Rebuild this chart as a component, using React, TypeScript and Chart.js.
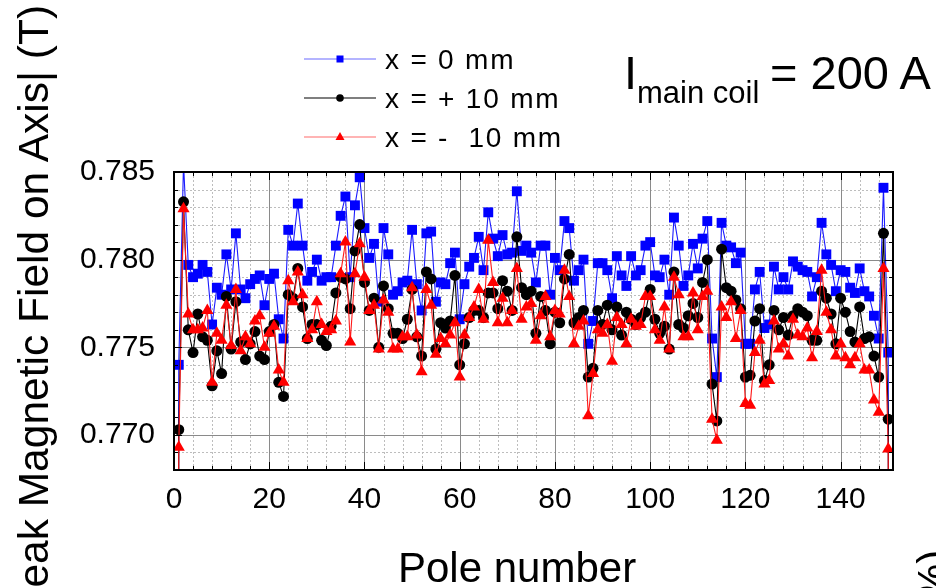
import React, { useEffect, useRef } from 'react';
import { Chart, registerables } from 'chart.js';

Chart.register(...registerables);

const FONT = '"Liberation Sans", Arial, Helvetica, sans-serif';

// Pole numbers 0..151 (poles 0 and 151 are the end poles, far below the plotted range)
const POLES: number[] = Array.from({ length: 152 }, (_, i) => i);

// x = 0 mm
const FIELD_X0: number[] = [
  0.600,
  0.7740, 0.7855, 0.7797, 0.7790, 0.7792, 0.7797, 0.7793, 0.7763, 0.7784, 0.7780,
  0.7803, 0.7783, 0.7815, 0.7783, 0.7778, 0.7786, 0.7789, 0.7791, 0.7774, 0.7789,
  0.7792, 0.7766, 0.7755, 0.7817, 0.7808, 0.7832, 0.7808, 0.7788, 0.7793, 0.7800,
  0.7788, 0.7790, 0.7790, 0.7808, 0.7825, 0.7836, 0.7790, 0.7831, 0.7847, 0.7818,
  0.7801, 0.7809, 0.7776, 0.7818, 0.7803, 0.7780, 0.7782, 0.7787, 0.7788, 0.7817,
  0.7786, 0.7771, 0.7815, 0.7816, 0.7776, 0.7787, 0.7786, 0.7798, 0.7804, 0.7766,
  0.7786, 0.7796, 0.7801, 0.7813, 0.7794, 0.7827, 0.7812, 0.7802, 0.7814, 0.7803,
  0.7804, 0.7839, 0.7805, 0.7808, 0.7804, 0.7787, 0.7808, 0.7808, 0.7780, 0.7801,
  0.7794, 0.7822, 0.7818, 0.7788, 0.7794, 0.7800, 0.7752, 0.7765, 0.7798, 0.7798,
  0.7794, 0.7778, 0.7802, 0.7791, 0.7785, 0.7802, 0.7791, 0.7794, 0.7808, 0.7810,
  0.7791, 0.7790, 0.7800, 0.7780, 0.7824, 0.7808, 0.7785, 0.7791, 0.7809, 0.7795,
  0.7812, 0.7822, 0.7755, 0.7733, 0.7821, 0.7808, 0.7807, 0.7798, 0.7804, 0.7752,
  0.7752, 0.7783, 0.7793, 0.7761, 0.7763, 0.7796, 0.7783, 0.7790, 0.7783, 0.7799,
  0.7796, 0.7794, 0.7793, 0.7779, 0.7790, 0.7821, 0.7803, 0.7797, 0.7782, 0.7794,
  0.7793, 0.7784, 0.7781, 0.7795, 0.7782, 0.7779, 0.7768, 0.7755, 0.7841, 0.7747,
  0.600,
];

// x = + 10 mm
const FIELD_XP10: number[] = [
  0.600,
  0.7703, 0.7833, 0.7760, 0.7747, 0.7769, 0.7756, 0.7754, 0.7728, 0.7748, 0.7735,
  0.7779, 0.7749, 0.7776, 0.7753, 0.7743, 0.7752, 0.7759, 0.7745, 0.7743, 0.7759,
  0.7763, 0.7730, 0.7722, 0.7780, 0.7778, 0.7795, 0.7773, 0.7755, 0.7763, 0.7763,
  0.7754, 0.7751, 0.7762, 0.7781, 0.7790, 0.7789, 0.7772, 0.7805, 0.7820, 0.7787,
  0.7771, 0.7778, 0.7750, 0.7785, 0.7772, 0.7758, 0.7758, 0.7755, 0.7766, 0.7783,
  0.7756, 0.7745, 0.7793, 0.7789, 0.7749, 0.7764, 0.7761, 0.7765, 0.7791, 0.7740,
  0.7752, 0.7767, 0.7771, 0.7771, 0.7767, 0.7781, 0.7781, 0.7772, 0.7788, 0.7782,
  0.7771, 0.7813, 0.7784, 0.7780, 0.7782, 0.7758, 0.7779, 0.7771, 0.7752, 0.7770,
  0.7764, 0.7789, 0.7803, 0.7764, 0.7767, 0.7771, 0.7733, 0.7738, 0.7771, 0.7763,
  0.7774, 0.7760, 0.7773, 0.7757, 0.7770, 0.7766, 0.7763, 0.7767, 0.7770, 0.7783,
  0.7766, 0.7758, 0.7762, 0.7749, 0.7793, 0.7763, 0.7761, 0.7768, 0.7775, 0.7767,
  0.7787, 0.7800, 0.7729, 0.7708, 0.7806, 0.7784, 0.7782, 0.7777, 0.7772, 0.7733,
  0.7734, 0.7765, 0.7772, 0.7731, 0.7740, 0.7771, 0.7760, 0.7767, 0.7757, 0.7768,
  0.7772, 0.7770, 0.7768, 0.7754, 0.7754, 0.7782, 0.7778, 0.7769, 0.7752, 0.7778,
  0.7770, 0.7759, 0.7753, 0.7773, 0.7755, 0.7756, 0.7745, 0.7733, 0.7815, 0.7709,
  0.600,
];

// x = - 10 mm
const FIELD_XM10: number[] = [
  0.600,
  0.7693, 0.7829, 0.7769, 0.7760, 0.7760, 0.7761, 0.7771, 0.7730, 0.7758, 0.7754,
  0.7774, 0.7751, 0.7783, 0.7748, 0.7756, 0.7752, 0.7765, 0.7768, 0.7750, 0.7758,
  0.7762, 0.7737, 0.7730, 0.7788, 0.7776, 0.7793, 0.7780, 0.7755, 0.7760, 0.7776,
  0.7763, 0.7759, 0.7760, 0.7765, 0.7792, 0.7810, 0.7753, 0.7792, 0.7809, 0.7790,
  0.7771, 0.7774, 0.7749, 0.7777, 0.7770, 0.7749, 0.7749, 0.7756, 0.7756, 0.7784,
  0.7757, 0.7736, 0.7783, 0.7774, 0.7746, 0.7755, 0.7752, 0.7757, 0.7764, 0.7733,
  0.7757, 0.7767, 0.7773, 0.7783, 0.7766, 0.7811, 0.7787, 0.7764, 0.7778, 0.7764,
  0.7771, 0.7795, 0.7766, 0.7773, 0.7775, 0.7754, 0.7768, 0.7779, 0.7756, 0.7771,
  0.7769, 0.7794, 0.7779, 0.7752, 0.7762, 0.7765, 0.7711, 0.7735, 0.7760, 0.7758,
  0.7763, 0.7742, 0.7767, 0.7763, 0.7752, 0.7766, 0.7762, 0.7763, 0.7779, 0.7779,
  0.7760, 0.7754, 0.7773, 0.7749, 0.7790, 0.7780, 0.7756, 0.7756, 0.7781, 0.7760,
  0.7779, 0.7782, 0.7709, 0.7697, 0.7773, 0.7767, 0.7776, 0.7755, 0.7771, 0.7718,
  0.7717, 0.7747, 0.7754, 0.7729, 0.7731, 0.7765, 0.7749, 0.7752, 0.7745, 0.7766,
  0.7757, 0.7756, 0.7761, 0.7744, 0.7759, 0.7794, 0.7770, 0.7760, 0.7745, 0.7752,
  0.7744, 0.7740, 0.7744, 0.7752, 0.7737, 0.7737, 0.7720, 0.7713, 0.7795, 0.7692,
  0.600,
];

const SERIES_LABELS = ['x = 0 mm', 'x = + 10 mm', 'x = -  10 mm'];
const X_TICKS = [0, 20, 40, 60, 80, 100, 120, 140];
const Y_TICKS = [0.770, 0.775, 0.780, 0.785];
const X_MIN = 0;
const X_MAX = 151;
const Y_MIN = 0.768;
const Y_MAX = 0.785;

const toPoints = (vals: number[]) => POLES.map((p, i) => ({ x: p, y: vals[i] }));

const framePlugin = {
  id: 'frame',
  beforeDatasetsDraw(chart: any) {
    const { ctx, chartArea: a, scales } = chart;
    const xs = scales.x;
    const ys = scales.y;
    ctx.save();
    ctx.lineWidth = 1;
    // minor dotted grid
    ctx.strokeStyle = '#bdbdbd';
    ctx.setLineDash([2, 2]);
    ctx.beginPath();
    for (let v = 4; v < X_MAX; v += 4) {
      if (v % 20 === 0) continue;
      const px = Math.round(xs.getPixelForValue(v)) + 0.5;
      ctx.moveTo(px, a.top);
      ctx.lineTo(px, a.bottom);
    }
    for (let k = 769; k < 785; k++) {
      if (k % 5 === 0) continue;
      const py = Math.round(ys.getPixelForValue(k / 1000)) + 0.5;
      ctx.moveTo(a.left, py);
      ctx.lineTo(a.right, py);
    }
    ctx.stroke();
    // major solid grid
    ctx.setLineDash([]);
    ctx.strokeStyle = '#8a8a8a';
    ctx.beginPath();
    for (const v of X_TICKS) {
      if (v === X_MIN) continue;
      const px = Math.round(xs.getPixelForValue(v)) + 0.5;
      ctx.moveTo(px, a.top);
      ctx.lineTo(px, a.bottom);
    }
    for (const v of Y_TICKS) {
      if (v >= Y_MAX) continue;
      const py = Math.round(ys.getPixelForValue(v)) + 0.5;
      ctx.moveTo(a.left, py);
      ctx.lineTo(a.right, py);
    }
    ctx.stroke();
    ctx.restore();
  },
  afterDatasetsDraw(chart: any) {
    const { ctx, chartArea: a, scales } = chart;
    const xs = scales.x;
    const ys = scales.y;
    ctx.save();
    ctx.strokeStyle = '#000';
    ctx.lineWidth = 1;
    ctx.beginPath();
    for (let v = 4; v < X_MAX; v += 4) {
      const len = v % 20 === 0 ? 8 : 4;
      const px = Math.round(xs.getPixelForValue(v)) + 0.5;
      ctx.moveTo(px, a.top);
      ctx.lineTo(px, a.top + len);
      ctx.moveTo(px, a.bottom);
      ctx.lineTo(px, a.bottom - len);
    }
    for (let k = 769; k < 785; k++) {
      const len = k % 5 === 0 ? 8 : 4;
      const py = Math.round(ys.getPixelForValue(k / 1000)) + 0.5;
      ctx.moveTo(a.left, py);
      ctx.lineTo(a.left + len, py);
      ctx.moveTo(a.right, py);
      ctx.lineTo(a.right - len, py);
    }
    ctx.stroke();
    ctx.lineWidth = 2;
    ctx.strokeStyle = '#000';
    ctx.strokeRect(a.left, a.top, a.right - a.left, a.bottom - a.top);
    ctx.restore();
  },
};

function LegendSymbol({ kind }: { kind: 'rect' | 'circle' | 'triangle' }) {
  const line = kind === 'rect' ? '#6a6aff' : kind === 'circle' ? '#000' : '#ff6a6a';
  const fill = kind === 'rect' ? '#0000ff' : kind === 'circle' ? '#000' : '#ff0000';
  return (
    <svg width={72} height={14} style={{ display: 'block' }}>
      <line x1={0} y1={7} x2={72} y2={7} stroke={line} strokeWidth={1.2} />
      {kind === 'rect' && <rect x={32.5} y={3.5} width={7} height={7} fill={fill} />}
      {kind === 'circle' && <circle cx={36} cy={7} r={3.8} fill={fill} />}
      {kind === 'triangle' && <polygon points="36,2 40.5,10 31.5,10" fill={fill} />}
    </svg>
  );
}

export default function App() {
  const canvasRef = useRef<HTMLCanvasElement | null>(null);

  useEffect(() => {
    if (!canvasRef.current) return;
    const chart = new Chart(canvasRef.current, {
      type: 'line',
      data: {
        datasets: [
          {
            label: SERIES_LABELS[0],
            data: toPoints(FIELD_X0),
            borderColor: '#1a1aff',
            borderWidth: 1.1,
            pointStyle: 'rect',
            pointRadius: 7,
            pointBackgroundColor: '#0000ff',
            pointBorderWidth: 0,
            order: 3,
          },
          {
            label: SERIES_LABELS[1],
            data: toPoints(FIELD_XP10),
            borderColor: '#000000',
            borderWidth: 1.1,
            pointStyle: 'circle',
            pointRadius: 5.5,
            pointBackgroundColor: '#000000',
            pointBorderWidth: 0,
            order: 2,
          },
          {
            label: SERIES_LABELS[2],
            data: toPoints(FIELD_XM10),
            borderColor: '#ff1a1a',
            borderWidth: 1.1,
            pointStyle: 'triangle',
            pointRadius: 7,
            pointBackgroundColor: '#ff0000',
            pointBorderWidth: 0,
            order: 1,
          },
        ],
      },
      options: {
        animation: false,
        responsive: true,
        maintainAspectRatio: false,
        layout: { padding: { top: 172, right: 43, left: 0, bottom: 0 } },
        plugins: {
          legend: { display: false },
          tooltip: { enabled: false },
          title: { display: false },
        },
        elements: { line: { tension: 0 } },
        scales: {
          x: {
            type: 'linear',
            min: X_MIN,
            max: X_MAX,
            grid: { display: false },
            border: { display: false },
            afterBuildTicks: (s: any) => {
              s.ticks = X_TICKS.map((v) => ({ value: v }));
            },
            afterFit: (s: any) => {
              s.height = 118;
            },
            ticks: {
              color: '#000',
              font: { family: FONT, size: 30 },
              padding: 4,
              maxRotation: 0,
              autoSkip: false,
              callback: (v: any) => String(v),
            },
          },
          y: {
            type: 'linear',
            min: Y_MIN,
            max: Y_MAX,
            grid: { display: false },
            border: { display: false },
            afterBuildTicks: (s: any) => {
              s.ticks = Y_TICKS.map((v) => ({ value: v }));
            },
            afterFit: (s: any) => {
              s.width = 174;
            },
            ticks: {
              color: '#000',
              font: { family: FONT, size: 30 },
              padding: 11,
              autoSkip: false,
              callback: (v: any) => Number(v).toFixed(3),
            },
          },
        },
      } as any,
      plugins: [framePlugin],
    });
    return () => chart.destroy();
  }, []);

  const legendRows: { kind: 'rect' | 'circle' | 'triangle'; y: number; label: string }[] = [
    { kind: 'rect', y: 59, label: SERIES_LABELS[0] },
    { kind: 'circle', y: 98, label: SERIES_LABELS[1] },
    { kind: 'triangle', y: 137, label: SERIES_LABELS[2] },
  ];

  return (
    <div
      style={{
        position: 'fixed',
        left: 0,
        top: 0,
        width: 936,
        height: 588,
        overflow: 'hidden',
        background: '#fff',
        fontFamily: FONT,
        color: '#000',
      }}
    >
      <div style={{ position: 'absolute', left: 0, top: 0, width: 936, height: 588 }}>
        <canvas ref={canvasRef} />
      </div>

      {/* Y axis title (rotated) */}
      <div
        style={{
          position: 'absolute',
          left: 13,
          top: 627,
          transformOrigin: '0 0',
          transform: 'rotate(-90deg)',
          whiteSpace: 'pre',
          fontSize: 42.5,
          lineHeight: '42.5px',
        }}
      >
        {'|Peak Magnetic Field on Axis| (T)'}
      </div>

      {/* X axis title */}
      <div
        style={{
          position: 'absolute',
          left: 398,
          top: 547,
          whiteSpace: 'pre',
          fontSize: 42,
          lineHeight: '42px',
        }}
      >
        Pole number
      </div>

      {/* Legend */}
      {legendRows.map((r) => (
        <React.Fragment key={r.label}>
          <div style={{ position: 'absolute', left: 304, top: r.y - 7 }}>
            <LegendSymbol kind={r.kind} />
          </div>
          <div
            style={{
              position: 'absolute',
              left: 385,
              top: r.y - 13,
              whiteSpace: 'pre',
              fontSize: 28,
              lineHeight: '28px',
              letterSpacing: 1.8,
            }}
          >
            {r.label}
          </div>
        </React.Fragment>
      ))}

      {/* Annotation: I_main coil = 200 A */}
      <div style={{ position: 'absolute', left: 624, top: 49, fontSize: 47, lineHeight: '47px', whiteSpace: 'pre' }}>I</div>
      <div style={{ position: 'absolute', left: 637, top: 77, fontSize: 31, lineHeight: '31px', whiteSpace: 'pre' }}>main coil</div>
      <div style={{ position: 'absolute', left: 770, top: 49, fontSize: 47, lineHeight: '47px', whiteSpace: 'pre' }}>= 200 A</div>

      {/* Clipped axis title of neighbouring panel */}
      <div
        style={{
          position: 'absolute',
          left: 912,
          top: 615,
          transformOrigin: '0 0',
          transform: 'rotate(-90deg)',
          whiteSpace: 'pre',
          fontSize: 42,
          lineHeight: '42px',
        }}
      >
        (%)
      </div>
    </div>
  );
}
